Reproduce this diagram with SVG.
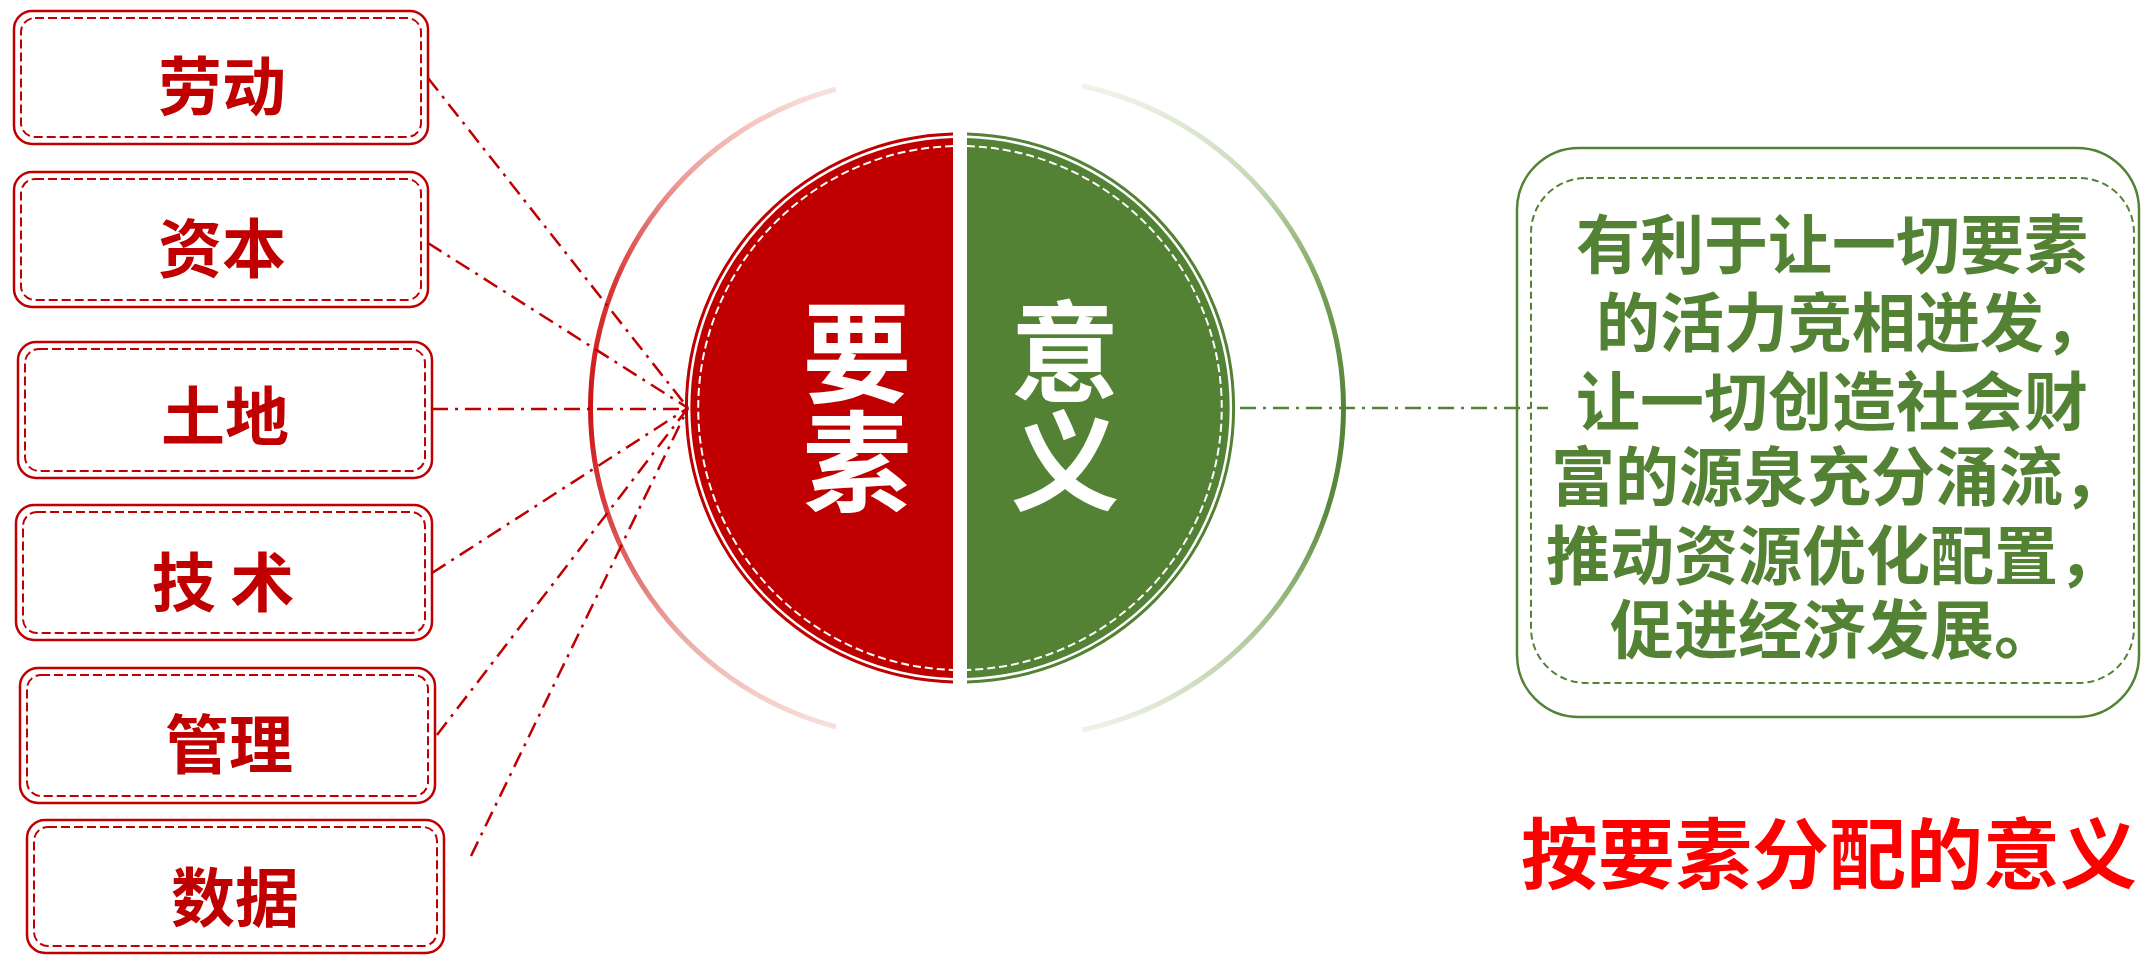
<svg xmlns="http://www.w3.org/2000/svg" width="2142" height="956" viewBox="0 0 2142 956">
<style>
.box-o{fill:#fff;stroke:#C00000;stroke-width:2.5}
.box-i{fill:none;stroke:#C00000;stroke-width:2;stroke-dasharray:9 4}
.lbl{font-family:"Noto Sans CJK SC","Noto Sans CJK TC",sans-serif;font-weight:700;font-size:64px;fill:#C00000;text-anchor:middle;dominant-baseline:central}
.big{font-family:"Noto Sans CJK SC","Noto Sans CJK TC",sans-serif;font-weight:700;font-size:109px;fill:#fff;text-anchor:middle;writing-mode:vertical-rl}
.desc{font-family:"Liberation Sans","Noto Sans CJK SC","Noto Sans CJK TC",sans-serif;font-weight:700;font-size:64px;fill:#548235;dominant-baseline:central}
.title{font-family:"Noto Sans CJK SC","Noto Sans CJK TC",sans-serif;font-weight:700;font-size:77px;fill:#FF0000;dominant-baseline:central}
.rl{fill:none;stroke:#C00000;stroke-width:2.5;stroke-dasharray:16 7 3 7}
.gl{fill:none;stroke:#548235;stroke-width:2.5;stroke-dasharray:16 7 3 7}
.wd{fill:none;stroke:#fff;stroke-width:2;stroke-dasharray:8 4}
</style>
<defs>
<linearGradient id="gr" gradientUnits="userSpaceOnUse" x1="0" y1="85" x2="0" y2="731">
<stop offset="0" stop-color="#FAE4DE"/>
<stop offset="0.15" stop-color="#EC9A96"/>
<stop offset="0.3" stop-color="#D93A3A"/>
<stop offset="0.5" stop-color="#CC1414"/>
<stop offset="0.68" stop-color="#D94848"/>
<stop offset="0.85" stop-color="#EBAAA4"/>
<stop offset="1" stop-color="#F8E2DB"/>
</linearGradient>
<linearGradient id="gg" gradientUnits="userSpaceOnUse" x1="0" y1="85" x2="0" y2="731">
<stop offset="0" stop-color="#F0F4EA"/>
<stop offset="0.15" stop-color="#C6D8B5"/>
<stop offset="0.32" stop-color="#76A056"/>
<stop offset="0.5" stop-color="#548235"/>
<stop offset="0.66" stop-color="#5B8A3C"/>
<stop offset="0.82" stop-color="#A3C08C"/>
<stop offset="1" stop-color="#EEF3E8"/>
</linearGradient>
</defs>

<g id="outer-arcs">
<path d="M836,89 A330,330 0 0 0 836,727" fill="none" stroke="url(#gr)" stroke-width="5"/>
<path d="M1082,86 A329,329 0 0 1 1082,730" fill="none" stroke="url(#gg)" stroke-width="5"/>
</g>

<g id="node-laodong">
<rect class="box-o" x="14" y="11" width="414" height="133" rx="18"/>
<rect class="box-i" x="21" y="18" width="400" height="119" rx="14"/>
<text class="lbl" x="222" y="82">劳动</text>
</g>
<g id="node-ziben">
<rect class="box-o" x="14" y="172" width="414" height="135" rx="18"/>
<rect class="box-i" x="21" y="179" width="400" height="121" rx="14"/>
<text class="lbl" x="222" y="244">资本</text>
</g>
<g id="node-tudi">
<rect class="box-o" x="18" y="342" width="414" height="136" rx="18"/>
<rect class="box-i" x="25" y="349" width="400" height="122" rx="14"/>
<text class="lbl" x="225" y="412">土地</text>
</g>
<g id="node-jishu">
<rect class="box-o" x="16" y="505" width="416" height="135" rx="18"/>
<rect class="box-i" x="23" y="512" width="402" height="121" rx="14"/>
<text class="lbl" x="223" y="578" xml:space="preserve">技 术</text>
</g>
<g id="node-guanli">
<rect class="box-o" x="20" y="668" width="415" height="135" rx="18"/>
<rect class="box-i" x="27" y="675" width="401" height="121" rx="14"/>
<text class="lbl" x="229" y="740">管理</text>
</g>
<g id="node-shuju">
<rect class="box-o" x="27" y="820" width="417" height="133" rx="18"/>
<rect class="box-i" x="34" y="827" width="403" height="119" rx="14"/>
<text class="lbl" x="235" y="893">数据</text>
</g>

<g id="node-yaosu">
<path d="M953,138.1 A270,270 0 0 0 953,677.9 Z" fill="#C00000"/>
<path d="M953,134.1 A274,274 0 0 0 953,681.9" fill="none" stroke="#C00000" stroke-width="3"/>
<path class="wd" d="M953,146.1 A262,262 0 0 0 953,669.9"/>
<text class="big" x="857" y="407">要素</text>
</g>

<g id="node-yiyi">
<path d="M967,138.1 A270,270 0 0 1 967,677.9 Z" fill="#548235"/>
<path d="M967,134.1 A274,274 0 0 1 967,681.9" fill="none" stroke="#548235" stroke-width="3"/>
<path class="wd" d="M967,146.1 A262,262 0 0 1 967,669.9"/>
<text class="big" x="1065" y="406">意义</text>
</g>

<g id="node-desc">
<rect x="1517" y="148" width="622" height="569" rx="62" fill="#fff" stroke="#548235" stroke-width="2.5"/>
<rect x="1531" y="178" width="603" height="505" rx="55" fill="none" stroke="#548235" stroke-width="2" stroke-dasharray="7 4"/>
<text class="desc" x="1576" y="246">有利于让一切要素<tspan x="1596" y="324">的活力竞相迸发，</tspan><tspan x="1576" y="403">让一切创造社会财</tspan><tspan x="1551" y="478">富的源泉充分涌流，</tspan><tspan x="1546" y="557">推动资源优化配置，</tspan><tspan x="1610" y="631">促进经济发展。</tspan></text>
</g>

<g id="title">
<text class="title" x="1521" y="849">按要素分配的意义</text>
</g>

<g id="connectors">
<line class="rl" x1="428" y1="78" x2="688" y2="408"/>
<line class="rl" x1="428" y1="243" x2="688" y2="408"/>
<line class="rl" x1="432" y1="409" x2="688" y2="409"/>
<line class="rl" x1="432" y1="573" x2="688" y2="408"/>
<line class="rl" x1="437" y1="735" x2="688" y2="408"/>
<line class="rl" x1="471" y1="856" x2="688" y2="408"/>
<line class="gl" x1="1240" y1="408" x2="1548" y2="408"/>
</g>
</svg>
